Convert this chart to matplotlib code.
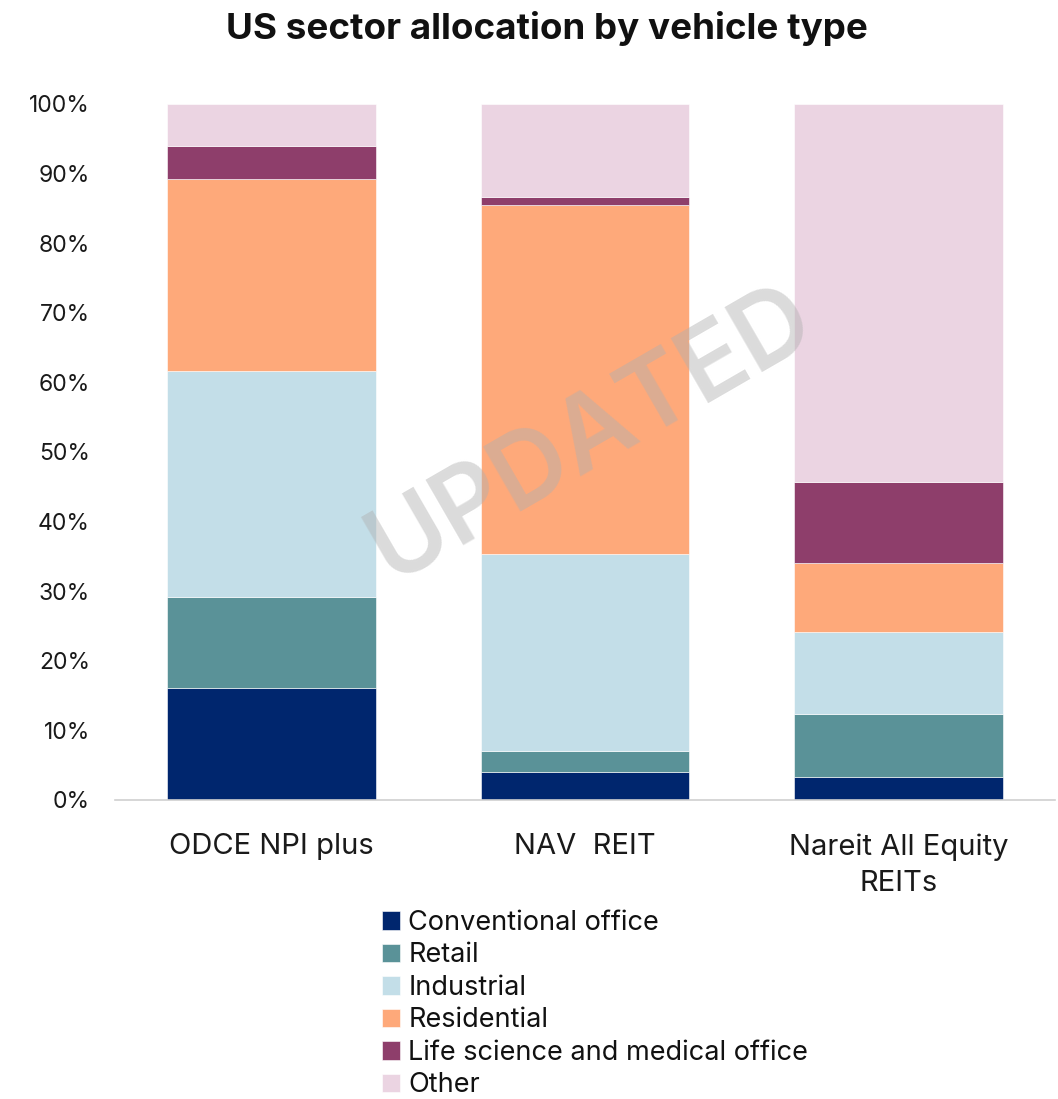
import matplotlib
matplotlib.use('Agg')
import matplotlib.pyplot as plt
import numpy as np

plt.rcParams['font.family'] = ['Inter', 'DejaVu Sans']

# ── Data ──────────────────────────────────────────────────────────────────────
vehicles = ['ODCE NPI plus', 'NAV  REIT', 'Nareit All Equity\nREITs']
sectors = ['Conventional office', 'Retail', 'Industrial', 'Residential',
           'Life science and medical office', 'Other']

conventional_office = [16.1, 4.0, 3.3]
retail = [13.1, 3.0, 9.1]
industrial = [32.4, 28.3, 11.7]
residential = [27.6, 50.2, 10.0]
life_science = [4.8, 1.1, 11.6]
other = [6.0, 13.4, 54.3]

colors = ['#00266E', '#5A9298', '#C3DEE8', '#FEA97A', '#8E3E6B', '#EBD4E2']

# ── Plot ──────────────────────────────────────────────────────────────────────
fig = plt.figure(figsize=(10.58, 10.99), dpi=100)
ax = fig.add_axes([115 / 1058, 1 - 800 / 1099, 940 / 1058, 696 / 1099])

series = [conventional_office, retail, industrial, residential, life_science, other]
x = np.arange(len(vehicles))
bottom = np.zeros(len(vehicles))
for name, vals, col in zip(sectors, series, colors):
    vals = np.array(vals) / 100.0
    ax.bar(x, vals, bottom=bottom, width=0.665, color=col, label=name,
           edgecolor='white', linewidth=0.4)
    bottom += vals

ax.set_xlim(-0.5, 2.5)
ax.set_ylim(0, 1)
ax.set_yticks(np.arange(0, 1.01, 0.1))
ax.set_yticklabels([f'{int(round(v * 100))}%' for v in np.arange(0, 1.01, 0.1)],
                   fontsize=16.5, color='#1a1a1a')
ax.set_xticks(x)
ax.set_xticklabels(vehicles, fontsize=21, color='#1a1a1a', linespacing=1.45)
ax.tick_params(axis='both', length=0)
ax.tick_params(axis='x', pad=24)
ax.tick_params(axis='y', pad=18)
for side in ['top', 'right', 'left']:
    ax.spines[side].set_visible(False)
ax.spines['bottom'].set_color('#d0d0d0')
ax.spines['bottom'].set_linewidth(1.2)

fig.text(0.517, 1 - 28 / 1099, 'US sector allocation by vehicle type',
         ha='center', va='center', fontsize=26.5, fontweight='bold', color='#111111')

# watermark
fig.text(592 / 1058, 1 - 435 / 1099, 'UPDATED', ha='center', va='center',
         rotation=30, fontsize=74, fontweight='semibold', color='#b0b0b0',
         alpha=0.45, zorder=10)

leg = fig.legend(loc='upper left', bbox_to_anchor=(371 / 1058, 1 - 899 / 1099),
                 frameon=False, fontsize=19.5, handlelength=0.68, handleheight=0.68,
                 handletextpad=0.3, labelspacing=0.24, borderaxespad=0)
for t in leg.get_texts():
    t.set_color('#111111')

fig.savefig('out.png', dpi=100)
